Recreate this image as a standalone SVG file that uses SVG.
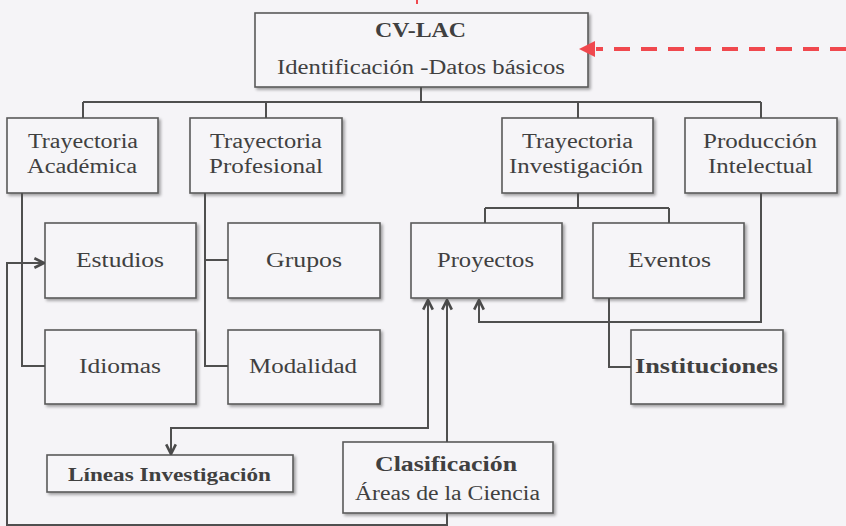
<svg xmlns="http://www.w3.org/2000/svg" width="846" height="526" viewBox="0 0 846 526">
<defs>
<filter id="sh" x="-10%" y="-10%" width="130%" height="140%">
<feGaussianBlur in="SourceAlpha" stdDeviation="1.5"/>
<feOffset dx="1.5" dy="2" result="b"/>
<feComponentTransfer><feFuncA type="linear" slope="0.35"/></feComponentTransfer>
<feMerge><feMergeNode/><feMergeNode in="SourceGraphic"/></feMerge>
</filter>
<marker id="ah" viewBox="0 0 10 10" refX="9" refY="5" markerWidth="6" markerHeight="6" orient="auto" markerUnits="strokeWidth">
<path d="M1,1 L9,5 L1,9" fill="none" stroke="#4a4a4a" stroke-width="2.2" stroke-linejoin="miter"/>
</marker>
<marker id="ahs" viewBox="0 0 10 10" refX="1" refY="5" markerWidth="6" markerHeight="6" orient="auto" markerUnits="strokeWidth">
<path d="M9,1 L1,5 L9,9" fill="none" stroke="#4a4a4a" stroke-width="2.2"/>
</marker>
</defs>
<style>
.box{fill:#f6f5f8;stroke:#5a5a5a;stroke-width:1.6;filter:url(#sh)}
.t{font-family:"Liberation Serif","DejaVu Serif",serif;font-size:20px;fill:#404040;text-anchor:start}
.b{font-weight:bold}
.c{fill:none;stroke:#4f4f4f;stroke-width:2}
</style>
<rect width="846" height="526" fill="#f5f4f7"/>

<g id="cvlac">
<rect class="box" x="255" y="13" width="333" height="74"/>
<text class="t b" x="375" y="37" textLength="91" lengthAdjust="spacingAndGlyphs">CV-LAC</text>
<text class="t" x="277" y="74" textLength="288" lengthAdjust="spacingAndGlyphs">Identificación -Datos básicos</text>
</g>

<g id="tray-academica">
<rect class="box" x="7" y="118" width="151" height="75"/>
<text class="t" x="28" y="148" textLength="110" lengthAdjust="spacingAndGlyphs">Trayectoria</text>
<text class="t" x="27" y="173" textLength="110" lengthAdjust="spacingAndGlyphs">Académica</text>
</g>

<g id="tray-profesional">
<rect class="box" x="190" y="118" width="152" height="75"/>
<text class="t" x="210" y="148" textLength="112" lengthAdjust="spacingAndGlyphs">Trayectoria</text>
<text class="t" x="209" y="173" textLength="114" lengthAdjust="spacingAndGlyphs">Profesional</text>
</g>

<g id="tray-investigacion">
<rect class="box" x="502" y="118" width="151" height="75"/>
<text class="t" x="522" y="148" textLength="111" lengthAdjust="spacingAndGlyphs">Trayectoria</text>
<text class="t" x="509" y="173" textLength="134" lengthAdjust="spacingAndGlyphs">Investigación</text>
</g>

<g id="produccion">
<rect class="box" x="685" y="118" width="152" height="75"/>
<text class="t" x="703" y="148" textLength="114" lengthAdjust="spacingAndGlyphs">Producción</text>
<text class="t" x="708" y="173" textLength="105" lengthAdjust="spacingAndGlyphs">Intelectual</text>
</g>

<g id="estudios">
<rect class="box" x="45" y="223" width="151" height="75"/>
<text class="t" x="76" y="267" textLength="88" lengthAdjust="spacingAndGlyphs">Estudios</text>
</g>

<g id="idiomas">
<rect class="box" x="45" y="330" width="151" height="74"/>
<text class="t" x="79" y="373" textLength="82" lengthAdjust="spacingAndGlyphs">Idiomas</text>
</g>

<g id="grupos">
<rect class="box" x="228" y="223" width="152" height="75"/>
<text class="t" x="266" y="267" textLength="76" lengthAdjust="spacingAndGlyphs">Grupos</text>
</g>

<g id="modalidad">
<rect class="box" x="228" y="330" width="152" height="74"/>
<text class="t" x="249" y="373" textLength="108" lengthAdjust="spacingAndGlyphs">Modalidad</text>
</g>

<g id="proyectos">
<rect class="box" x="411" y="223" width="151" height="75"/>
<text class="t" x="437" y="267" textLength="97" lengthAdjust="spacingAndGlyphs">Proyectos</text>
</g>

<g id="eventos">
<rect class="box" x="593" y="223" width="151" height="75"/>
<text class="t" x="628" y="267" textLength="83" lengthAdjust="spacingAndGlyphs">Eventos</text>
</g>

<g id="instituciones">
<rect class="box" x="631" y="330" width="152" height="74"/>
<text class="t b" x="635" y="373" textLength="143" lengthAdjust="spacingAndGlyphs">Instituciones</text>
</g>

<g id="lineas">
<rect class="box" x="47" y="455" width="246" height="37"/>
<text class="t b" x="68" y="481" textLength="203" lengthAdjust="spacingAndGlyphs" style="font-size:18px">Líneas Investigación</text>
</g>

<g id="clasificacion">
<rect class="box" x="343" y="442" width="210" height="71"/>
<text class="t b" x="375" y="471" textLength="142" lengthAdjust="spacingAndGlyphs">Clasificación</text>
<text class="t" x="355" y="500" textLength="185" lengthAdjust="spacingAndGlyphs">Áreas de la Ciencia</text>
</g>

<g id="connectors">
<path class="c" d="M421,87 V102 M83,102 H761 M83,102 V118 M266,102 V118 M578,102 V118 M761,102 V118"/>
<path class="c" d="M22,193 V366 H45"/>
<path class="c" d="M205,193 V366 H228 M205,260 H228"/>
<path class="c" d="M578,193 V208 M485,208 H669 M485,208 V223 M669,208 V223"/>
<path class="c" d="M761,193 V322 H479 V300" marker-end="url(#ah)"/>
<path class="c" d="M609,298 V367 H631"/>
<path class="c" d="M428,300 V428 H171 V454" marker-start="url(#ahs)" marker-end="url(#ah)"/>
<path class="c" d="M447,442 V300" marker-end="url(#ah)"/>
<path class="c" d="M447,513 V525 H7 V263 H44" marker-end="url(#ah)"/>
<path d="M846,49 H596" fill="none" stroke="#f0484e" stroke-width="4" stroke-dasharray="16,11"/>
<polygon points="579,49 595,41 595,57" fill="#f0484e"/>
<path d="M417,0 V4" fill="none" stroke="#f0484e" stroke-width="2"/>
</g>
</svg>
